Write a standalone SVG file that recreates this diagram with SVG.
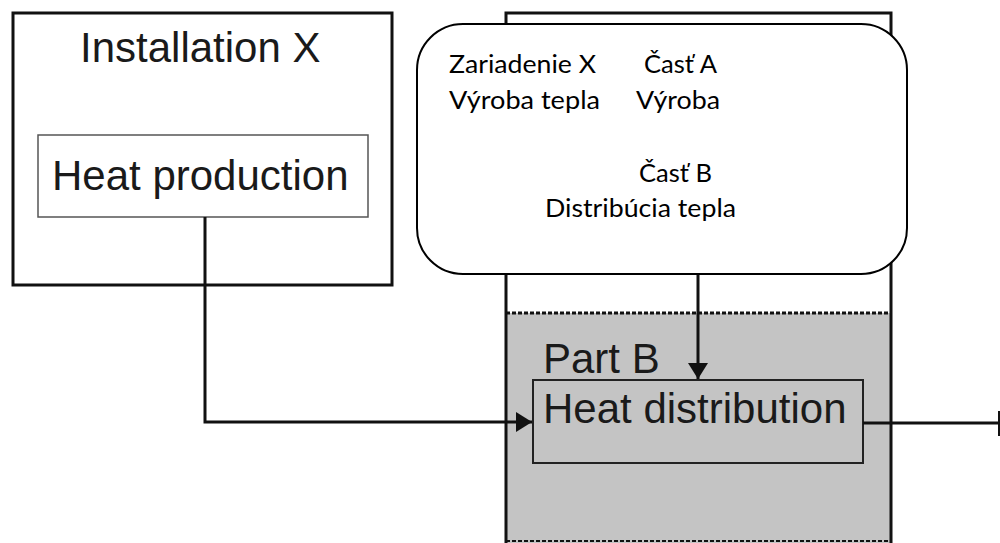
<svg xmlns="http://www.w3.org/2000/svg" width="1000" height="543" viewBox="0 0 1000 543">
  <defs>
    <style>
      .en { font-family: "Liberation Sans", Arial, sans-serif; font-size: 42px; fill: #1a1a1a; }
      .sk { font-family: Lato, "Noto Sans", sans-serif; font-size: 25px; fill: #000; }
      .frame { fill: none; stroke: #111; stroke-width: 3; }
      .wire { fill: none; stroke: #111; stroke-width: 3; }
    </style>
    <marker id="arr" viewBox="0 0 16 20" refX="16" refY="10" markerWidth="16" markerHeight="20" markerUnits="userSpaceOnUse" orient="auto">
      <path d="M0,0 L16,10 L0,20 Z" fill="#111"/>
    </marker>
  </defs>
  <rect width="1000" height="543" fill="#fff"/>

  <g id="installation-x">
    <rect class="frame" x="13" y="13" width="379" height="272"/>
    <text class="en" x="80" y="62">Installation X</text>
  </g>

  <g id="heat-production">
    <rect x="38" y="135" width="330" height="82" fill="#fff" stroke="#555" stroke-width="1.5"/>
    <text class="en" x="52" y="190">Heat production</text>
  </g>

  <g id="part-a-b">
    <rect x="506" y="313" width="385" height="232" fill="#c4c4c4"/>
    <path class="frame" d="M506,545 V13 H891 V545"/>
    <line x1="506" y1="313" x2="891" y2="313" stroke="#111" stroke-width="3" stroke-dasharray="4 2"/>
    <line x1="506" y1="541" x2="891" y2="541" stroke="#111" stroke-width="2" stroke-dasharray="4 2"/>
    <text class="en" x="543" y="373">Part B</text>
  </g>

  <g id="heat-distribution">
    <rect x="533" y="380" width="330" height="83" fill="#c4c4c4" stroke="#222" stroke-width="2"/>
    <text class="en" x="543" y="423">Heat distribution</text>
  </g>

  <g id="connectors">
    <path class="wire" d="M205,217 V422 H532" marker-end="url(#arr)"/>
    <path class="wire" d="M698,274 V379" marker-end="url(#arr)"/>
    <line class="wire" x1="863" y1="423" x2="1000" y2="423"/>
    <line x1="999" y1="411" x2="999" y2="436" stroke="#111" stroke-width="2"/>
  </g>

  <g id="translation-note">
    <rect x="417" y="24" width="490" height="250" rx="46" ry="46" fill="#fff" stroke="#000" stroke-width="2"/>
    <text class="sk" x="449" y="73" textLength="147" lengthAdjust="spacingAndGlyphs">Zariadenie X</text>
    <text class="sk" x="449" y="109" textLength="151" lengthAdjust="spacingAndGlyphs">Výroba tepla</text>
    <text class="sk" x="644" y="73" textLength="73" lengthAdjust="spacingAndGlyphs">Časť A</text>
    <text class="sk" x="636" y="109" textLength="84" lengthAdjust="spacingAndGlyphs">Výroba</text>
    <text class="sk" x="639" y="182" textLength="73" lengthAdjust="spacingAndGlyphs">Časť B</text>
    <text class="sk" x="545" y="217" textLength="191" lengthAdjust="spacingAndGlyphs">Distribúcia tepla</text>
  </g>
</svg>
